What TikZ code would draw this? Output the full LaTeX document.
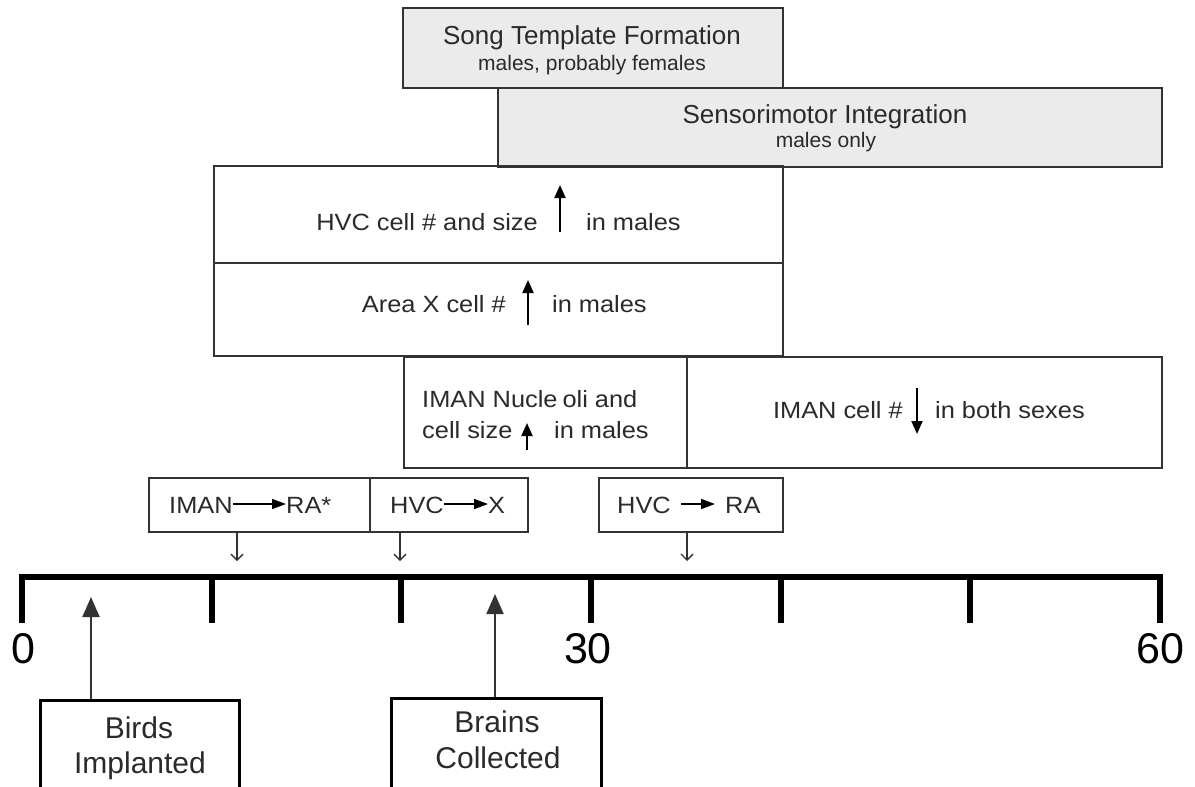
\documentclass[tikz,border=0pt]{standalone}
\usepackage{fontspec}
\setmainfont{Liberation Sans}
\newfontfamily\bodyfont[FakeStretch=1.08]{Liberation Sans}
\usetikzlibrary{arrows.meta}
\definecolor{edgec}{HTML}{333333}
\definecolor{boxgray}{HTML}{EBEBEB}
\definecolor{textc}{HTML}{2A2A2A}
\begin{document}
\begin{tikzpicture}[x=1pt,y=-1pt,
  box/.style={draw=edgec, line width=1.6pt, inner sep=0pt, anchor=north west},
  graybox/.style={box, fill=boxgray, line width=2pt},
  bigbox/.style={draw=black, line width=3pt, inner sep=0pt, anchor=north west},
  txt/.style={inner sep=0pt, text=textc, font=\bodyfont\fontsize{23.5}{28}\selectfont},
  ttl/.style={inner sep=0pt, text=textc, anchor=base, font=\fontsize{26}{30}\selectfont},
  sub/.style={inner sep=0pt, text=textc, anchor=base, font=\fontsize{21}{25}\selectfont},
  num/.style={inner sep=0pt, text=black, anchor=base, font=\fontsize{43}{50}\selectfont},
  lbl/.style={inner sep=0pt, text=textc, anchor=base, font=\fontsize{30}{35}\selectfont},
  uparr/.style={line width=2pt, draw=black, -{Triangle[length=13pt,width=11pt]}},
  patharr/.style={line width=1.6pt, draw=black, -{Triangle[length=14pt,width=10pt]}},
  downarr/.style={line width=1.3pt, draw=edgec, -{Straight Barb[length=6pt,width=12pt]}},
  pointarr/.style={line width=2pt, draw=edgec, -{Triangle[length=20pt,width=17pt]}},
  axis/.style={line width=6pt, draw=black, line join=miter, line cap=butt}
]
\useasboundingbox (0,0) rectangle (1195,787);
\fill[white] (0,0) rectangle (1195,787);

% top gray boxes
\node[graybox, minimum width=380pt, minimum height=80pt] (song) at (402,7) {};
\node[graybox, minimum width=664pt, minimum height=79pt] (sensor) at (497,87) {};
\node[ttl] (songT) at (592,45) {Song Template Formation};
\node[sub] (songS) at (592,70) {males, probably females};
\node[ttl] (sensT) at (825,123) {Sensorimotor Integration};
\node[sub] (sensS) at (826,147) {males only};

% HVC and Area X boxes
\node[box, minimum width=569pt, minimum height=97pt] (hvc) at (213,165) {};
\node[box, minimum width=569pt, minimum height=93pt] (areax) at (213,262) {};
\node[txt, anchor=base east] (hvcL) at (538,230) {HVC cell \# and size};
\node[txt, anchor=base west] (hvcR) at (586,230) {in males};
\coordinate (hvcA0) at (560,232);
\coordinate (hvcA1) at (560,185);
\draw[uparr] (hvcA0) -- (hvcA1);
\node[txt, anchor=base east] (axL) at (506,312) {Area X cell \#};
\node[txt, anchor=base west] (axR) at (552,312) {in males};
\coordinate (axA0) at (528,325);
\coordinate (axA1) at (528,280);
\draw[uparr] (axA0) -- (axA1);

% IMAN boxes
\node[box, minimum width=283pt, minimum height=111pt] (imanN) at (403,356) {};
\node[box, minimum width=475pt, minimum height=111pt] (imanC) at (686,356) {};
\node[txt, anchor=base west] (inL1) at (422,407) {IMAN Nucle\hspace{5pt}oli and};
\node[txt, anchor=base west] (inL2) at (422,438) {cell size};
\node[txt, anchor=base west] (inL3) at (554,438) {in males};
\coordinate (inA0) at (527,450);
\coordinate (inA1) at (527,423);
\draw[uparr] (inA0) -- (inA1);
\node[txt, anchor=base east] (icL) at (903,418) {IMAN cell \#};
\node[txt, anchor=base west] (icR) at (935,418) {in both sexes};
\coordinate (icA0) at (917,388);
\coordinate (icA1) at (917,434);
\draw[uparr] (icA0) -- (icA1);

% pathway boxes
\node[box, minimum width=221pt, minimum height=54pt] (p1) at (148,477) {};
\node[box, minimum width=158pt, minimum height=54pt] (p2) at (369,477) {};
\node[box, minimum width=184pt, minimum height=54pt] (p3) at (598,477) {};
\node[txt, anchor=base west] (p1a) at (169,513) {IMAN};
\node[txt, anchor=base west] (p1b) at (286,513) {RA*};
\draw[patharr] (p1a.east |- 0,504) -- (p1b.west |- 0,504);
\node[txt, anchor=base west] (p2a) at (390,513) {HVC};
\node[txt, anchor=base west] (p2b) at (488,513) {X};
\draw[patharr] (p2a.east |- 0,504) -- (p2b.west |- 0,504);
\node[txt, anchor=base west] (p3a) at (617,513) {HVC};
\node[txt, anchor=base west] (p3b) at (725,513) {RA};
\draw[patharr] ([xshift=10pt]p3a.east |- 0,504) -- ([xshift=-10pt]p3b.west |- 0,504);

% down arrows to timeline
\coordinate (d1) at (237,561);
\coordinate (d2) at (400,561);
\coordinate (d3) at (687,561);
\draw[downarr] (d1 |- p1.south) -- (d1);
\draw[downarr] (d2 |- p2.south) -- (d2);
\draw[downarr] (d3 |- p3.south) -- (d3);

% timeline
\draw[axis] (22,623) -- (22,577) -- (1160,577) -- (1160,623);
\foreach \tx in {212,401,591,781,970}{
  \draw[line width=5.5pt, draw=black] (\tx,577) -- (\tx,623);
}
\node[num] (n0) at (23,663) {0};
\node[num] (n30) at (588,663) {30};
\node[num] (n60) at (1160,663) {60};

% event boxes
\node[bigbox, minimum width=199pt, minimum height=110pt] (birds) at (39,699) {};
\node[bigbox, minimum width=210pt, minimum height=110pt] (brains) at (390,697) {};
\node[lbl] (birds1) at (139,738) {Birds};
\node[lbl] (birds2) at (140,773) {Implanted};
\node[lbl] (brains1) at (497,732) {Brains};
\node[lbl] (brains2) at (498,768) {Collected};
\coordinate (birdsTip) at (91,597);
\coordinate (brainsTip) at (495,594);
\draw[pointarr] (birdsTip |- birds.north) -- (birdsTip);
\draw[pointarr] (brainsTip |- brains.north) -- (brainsTip);
\end{tikzpicture}
\end{document}
